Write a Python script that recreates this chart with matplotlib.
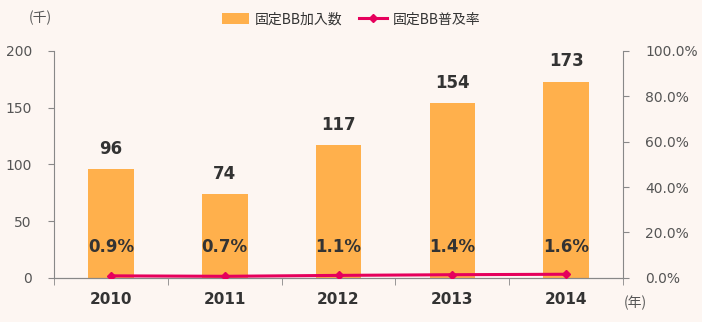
import matplotlib
matplotlib.use("Agg")
import matplotlib.pyplot as plt
import numpy as np

# DejaVu for the digits (Verdana-like), CJK for the Japanese labels
plt.rcParams["font.family"] = ["DejaVu Sans", "Noto Sans CJK JP"]

years = ["2010", "2011", "2012", "2013", "2014"]
subscribers = [96, 74, 117, 154, 173]          # 千
penetration = [0.9, 0.7, 1.1, 1.4, 1.6]        # %

BG = "#fdf6f2"
BAR = "#ffb04c"
LINE = "#e6005c"
TXT = "#333333"
AXC = "#888888"

fig = plt.figure(figsize=(7.02, 3.22), dpi=100, facecolor=BG)
ax = fig.add_axes([0.077, 0.137, 0.8105, 0.705], facecolor=BG)
ax2 = ax.twinx()

x = np.arange(len(years))
bars = ax.bar(x, subscribers, width=0.4, color=BAR, label="固定BB加入数", zorder=2)
ln, = ax2.plot(x, penetration, color=LINE, lw=2.2, marker="D", ms=4,
               label="固定BB普及率", zorder=3)

ax.set_xlim(-0.5, len(years) - 0.5)
ax.set_ylim(0, 200)
ax.set_yticks(range(0, 201, 50))
ax2.set_ylim(0, 100)
ax2.set_yticks(range(0, 101, 20))
ax2.set_yticklabels([f"{v:.1f}%" for v in range(0, 101, 20)])

for a in (ax, ax2):
    a.spines["top"].set_visible(False)
    for s in a.spines.values():
        s.set_color(AXC)
ax.spines["right"].set_visible(False)
ax2.spines["left"].set_visible(False)

ax.set_xticks(x)
ax.set_xticklabels(years, fontsize=11, fontweight="bold", color=TXT)
ax.set_xticks(np.arange(-0.5, len(years)), minor=True)
ax.tick_params(axis="x", which="major", length=0, pad=10)
ax.tick_params(axis="x", which="minor", length=5, color=AXC)
ax.tick_params(axis="y", length=4, color=AXC, labelcolor="#555555", labelsize=10, pad=12)
ax2.tick_params(axis="y", length=4, color=AXC, labelcolor="#555555", labelsize=10, pad=12)

for xi, v in zip(x, subscribers):
    ax.text(xi, v + 10, str(v), ha="center", va="bottom", fontsize=12,
            fontweight="bold", color=TXT)
for xi, p in zip(x, penetration):
    ax.text(xi, 27, f"{p}%", ha="center", va="center", fontsize=12,
            fontweight="bold", color=TXT)

fig.text(0.057, 0.945, "(千)", ha="center", va="center", fontsize=10,
         color="#555555", family="Noto Sans CJK JP")
fig.text(0.905, 0.06, "(年)", ha="center", va="center", fontsize=10,
         color="#555555", family="Noto Sans CJK JP")

fig.legend(handles=[bars, ln], loc="center", bbox_to_anchor=(0.5, 0.94), ncol=2,
           frameon=False, fontsize=10, handlelength=2.0, handleheight=0.8,
           columnspacing=1.2, handletextpad=0.4, labelcolor="#333333",
           prop={"family": "Noto Sans CJK JP", "size": 10})

fig.savefig("out.png", dpi=100, facecolor=BG)
